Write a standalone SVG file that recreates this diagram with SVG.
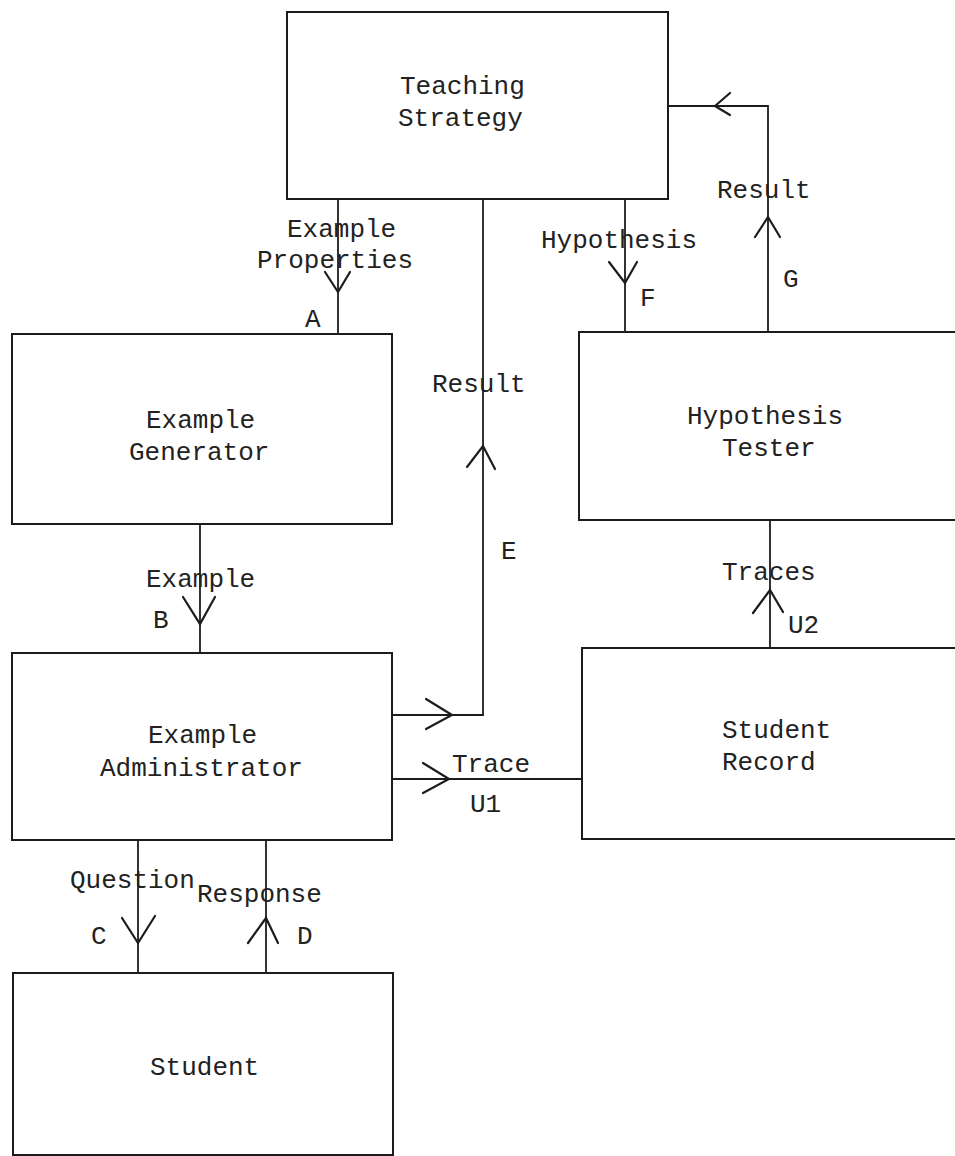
<svg xmlns="http://www.w3.org/2000/svg" width="955" height="1156" viewBox="0 0 955 1156">
<style>
.box{fill:none;stroke:#1c1c1c;stroke-width:2}
.ln{fill:none;stroke:#1c1c1c;stroke-width:1.8}
.ah{fill:none;stroke:#1c1c1c;stroke-width:2.2;stroke-linecap:round;stroke-linejoin:miter}
text{font-family:"Liberation Mono","DejaVu Sans Mono",monospace;font-size:26px;fill:#222}
</style>
<rect width="955" height="1156" fill="#ffffff"/>
<g id="connectors">
  <g id="conn-A"><line class="ln" x1="338" y1="199" x2="338" y2="334"/><polyline class="ah" points="325,272 338,292 350,272"/></g>
  <g id="conn-B"><line class="ln" x1="200" y1="524" x2="200" y2="653"/><polyline class="ah" points="183,597 200,624 215,597"/></g>
  <g id="conn-C"><line class="ln" x1="138" y1="840" x2="138" y2="973"/><polyline class="ah" points="122,918 138,943 155,916"/></g>
  <g id="conn-D"><line class="ln" x1="266" y1="840" x2="266" y2="973"/><polyline class="ah" points="248,943 266,918 278,943"/></g>
  <g id="conn-E"><polyline class="ln" points="392,715 483,715 483,199"/><polyline class="ah" points="426,699 452,715 426,729"/><polyline class="ah" points="467,467 483,446 495,469"/></g>
  <g id="conn-F"><line class="ln" x1="625" y1="199" x2="625" y2="332"/><polyline class="ah" points="609,262 625,283 637,262"/></g>
  <g id="conn-G"><polyline class="ln" points="768,332 768,106 668,106"/><polyline class="ah" points="755,237 768,217 780,237"/><polyline class="ah" points="730,93 715,106 730,115"/></g>
  <g id="conn-U1"><line class="ln" x1="392" y1="779" x2="581" y2="779"/><polyline class="ah" points="423,763 449,779 423,793"/></g>
  <g id="conn-U2"><line class="ln" x1="770" y1="520" x2="770" y2="648"/><polyline class="ah" points="753,613 770,590 783,612"/></g>
  <g id="labels">
    <text x="287" y="237">Example</text>
    <text x="257" y="268">Properties</text>
    <text x="305" y="327">A</text>
    <text x="541" y="248">Hypothesis</text>
    <text x="640" y="306">F</text>
    <text x="717" y="198">Result</text>
    <text x="783" y="287">G</text>
    <text x="432" y="392">Result</text>
    <text x="501" y="559">E</text>
    <text x="146" y="587">Example</text>
    <text x="153" y="628">B</text>
    <text x="722" y="580">Traces</text>
    <text x="788" y="633">U2</text>
    <text x="452" y="772">Trace</text>
    <text x="470" y="812">U1</text>
    <text x="70" y="888">Question</text>
    <text x="197" y="902">Response</text>
    <text x="91" y="944">C</text>
    <text x="297" y="944">D</text>
  </g>
</g>
<g id="teaching-strategy">
  <rect class="box" x="287" y="12" width="381" height="187"/>
  <text x="400" y="94">Teaching</text>
  <text x="398" y="126">Strategy</text>
</g>
<g id="example-generator">
  <rect class="box" x="12" y="334" width="380" height="190"/>
  <text x="146" y="428">Example</text>
  <text x="129" y="460">Generator</text>
</g>
<g id="hypothesis-tester">
  <rect class="box" x="579" y="332" width="400" height="188"/>
  <text x="687" y="424">Hypothesis</text>
  <text x="722" y="456">Tester</text>
</g>
<g id="example-administrator">
  <rect class="box" x="12" y="653" width="380" height="187"/>
  <text x="148" y="743">Example</text>
  <text x="100" y="776">Administrator</text>
</g>
<g id="student-record">
  <rect class="box" x="582" y="648" width="400" height="191"/>
  <text x="722" y="738">Student</text>
  <text x="722" y="770">Record</text>
</g>
<g id="student">
  <rect class="box" x="13" y="973" width="380" height="182"/>
  <text x="150" y="1075">Student</text>
</g>
</svg>
